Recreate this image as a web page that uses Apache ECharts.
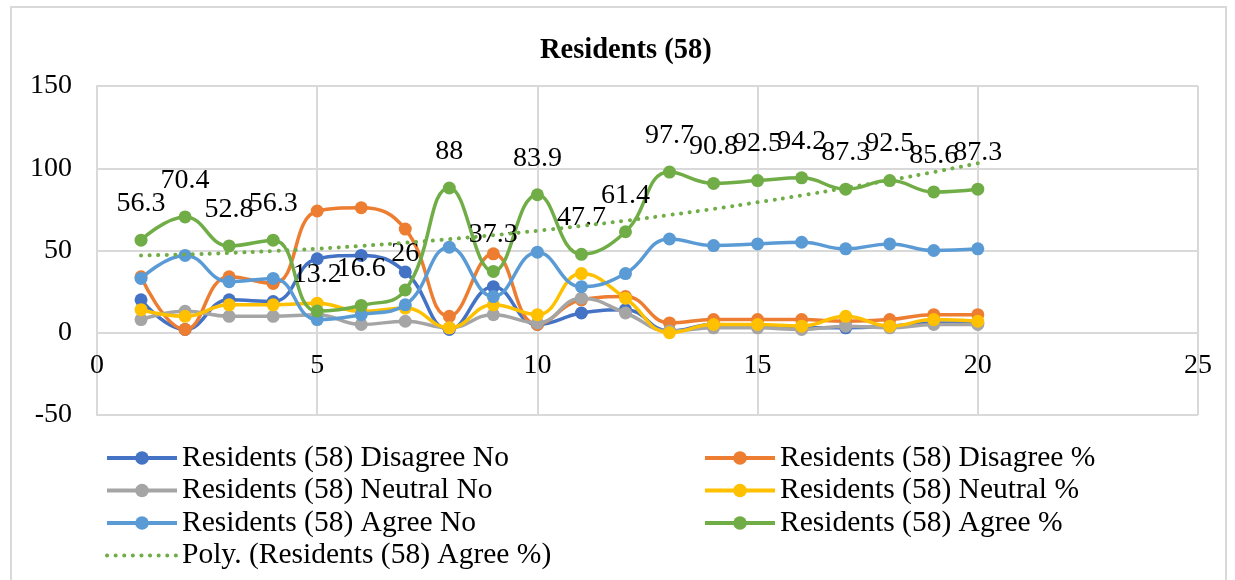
<!DOCTYPE html>
<html>
<head>
<meta charset="utf-8">
<script src="https://cdn.jsdelivr.net/npm/echarts@6/dist/echarts.min.js"></script>
<style>
html,body{margin:0;padding:0;background:#fff;}
#chart{width:1235px;height:580px;}
</style>
</head>
<body>
<div id="chart"></div>
<script>
var xValues = [1,2,3,4,5,6,7,8,9,10,11,12,13,14,15,16,17,18,19,20];
var disagreeNo = [20, 2, 20, 19, 45, 47, 37, 2, 28, 5, 12, 14, 1, 5, 4, 3, 3, 4, 6, 6];
var disagreePct = [34, 2, 34, 30, 74, 76, 63, 10, 48, 5, 20, 22, 6, 8, 8, 8, 7, 8, 11, 11];
var neutralNo = [8, 13, 10, 10, 11, 5, 7, 3, 11, 6, 21, 12, 1, 3, 3, 2, 4, 3, 5, 5];
var neutralPct = [14, 10, 17, 17, 18, 13, 15, 3, 17, 11, 36, 21, 0, 5, 5, 4, 10, 4, 8, 7];
var agreeNo = [33, 47, 31, 33, 8, 11, 17, 52, 22, 49, 28, 36, 57, 53, 54, 55, 51, 54, 50, 51];
var agreePct = [56.3, 70.4, 52.8, 56.3, 13.2, 16.6, 26, 88, 37.3, 83.9, 47.7, 61.4, 97.7, 90.8, 92.5, 94.2, 87.3, 92.5, 85.6, 87.3];
var agreeTrend = [47.0, 47.6, 48.5, 49.7, 51.1, 52.8, 54.7, 56.9, 59.3, 62.0, 64.9, 68.1, 71.6, 75.3, 79.3, 83.5, 88.0, 92.7, 97.7, 103.0];
var seriesNames = [
  'Residents (58) Disagree No',
  'Residents (58) Disagree %',
  'Residents (58) Neutral No',
  'Residents (58) Neutral %',
  'Residents (58) Agree No',
  'Residents (58) Agree %',
  'Poly. (Residents (58) Agree %)'
];
var colors = ['#4472C4', '#ED7D31', '#A5A5A5', '#FFC000', '#5B9BD5', '#70AD47', '#70AD47'];
var chartTitle = 'Residents (58)';

function pairs(vals) {
  return vals.map(function (v, i) { return [xValues[i], v]; });
}

var FONT = 'Liberation Serif, Times New Roman, serif';
var allVals = [disagreeNo, disagreePct, neutralNo, neutralPct, agreeNo, agreePct];

var series = allVals.map(function (vals, i) {
  var s = {
    name: seriesNames[i],
    type: 'line',
    data: pairs(vals),
    smooth: 0.45,
    symbol: 'circle',
    symbolSize: 13,
    color: colors[i],
    lineStyle: { width: 3.5, color: colors[i] },
    itemStyle: { color: colors[i] },
    z: 2 + i
  };
  if (i === 5) {
    s.label = {
      show: true,
      position: 'top',
      distance: 16,
      fontFamily: FONT,
      fontSize: 28,
      color: '#000'
    };
  }
  return s;
});
series.push({
  name: seriesNames[6],
  type: 'line',
  data: pairs(agreeTrend),
  smooth: true,
  symbol: 'none',
  color: colors[6],
  lineStyle: { width: 4, color: colors[6], type: [0.1, 8.5], cap: 'round' },
  z: 10
});

var legendText = { fontFamily: FONT, fontSize: 29.5, color: '#000', lineHeight: 28 };

var chart = echarts.init(document.getElementById('chart'), null, { renderer: 'canvas' });
chart.setOption({
  animation: false,
  backgroundColor: '#fff',
  color: colors,
  title: {
    text: chartTitle,
    left: 535,
    top: 31,
    textStyle: { fontFamily: FONT, fontSize: 28.5, fontWeight: 'bold', color: '#000' }
  },
  graphic: [{
    type: 'rect',
    shape: { x: 11, y: 7, width: 1215, height: 600 },
    style: { fill: null, stroke: '#d9d9d9', lineWidth: 2 },
    silent: true,
    z: -1
  }],
  grid: { left: 97, right: 37, top: 86, bottom: 165, containLabel: false },
  xAxis: {
    type: 'value',
    position: 'bottom',
    offset: -82,
    min: 0, max: 25, interval: 5,
    axisLine: { show: true, onZero: false, lineStyle: { color: '#d9d9d9', width: 2 } },
    axisTick: { show: false },
    splitLine: { show: true, lineStyle: { color: '#d9d9d9', width: 2 } },
    axisLabel: { fontFamily: FONT, fontSize: 28, color: '#000', margin: 19 }
  },
  yAxis: {
    type: 'value',
    min: -50, max: 150, interval: 50,
    axisLine: { show: true, onZero: false, lineStyle: { color: '#d9d9d9', width: 2 } },
    axisTick: { show: false },
    splitLine: { show: true, lineStyle: { color: '#d9d9d9', width: 2 } },
    axisLabel: { fontFamily: FONT, fontSize: 28, color: '#000', margin: 25 }
  },
  legend: [{
    orient: 'vertical',
    left: 105,
    top: 443,
    padding: 0,
    itemWidth: 70,
    itemHeight: 17,
    itemGap: 2.5,
    lineStyle: { width: 4 },
    data: [seriesNames[0], seriesNames[2], seriesNames[4],
      { name: seriesNames[6], itemStyle: { opacity: 0 } }],
    textStyle: legendText
  }, {
    orient: 'vertical',
    left: 703,
    top: 443,
    padding: 0,
    itemWidth: 70,
    itemHeight: 17,
    itemGap: 2.5,
    lineStyle: { width: 4 },
    data: [seriesNames[1], seriesNames[3], seriesNames[5]],
    textStyle: legendText
  }],
  series: series
});
</script>
</body>
</html>
